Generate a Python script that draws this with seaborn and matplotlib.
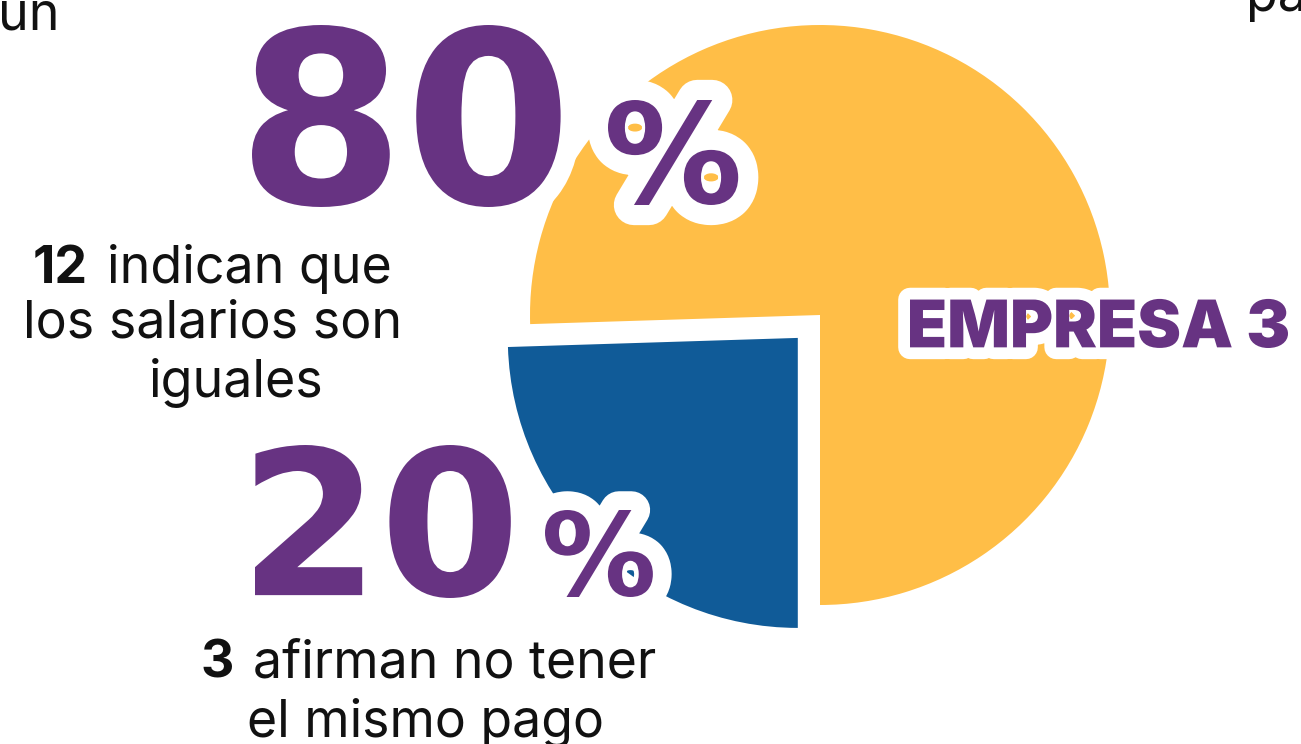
import matplotlib
matplotlib.use("Agg")
import matplotlib.pyplot as plt
import matplotlib.patheffects as pe
from matplotlib.font_manager import FontProperties
from matplotlib.textpath import TextPath
import seaborn as sns

company = "EMPRESA 3"
counts = [12, 3]
percents = [80, 20]
captions = [["indican que", "los salarios son", "iguales"],
            ["afirman no tener", "el mismo pago"]]
drawn_share = [75.5, 24.5]   # slice sizes as they are drawn (quarter-ish wedge)
colors = ["#FFBE47", "#105B98"]
purple = "#673382"

W, H, DPI = 1301, 744, 100
radius = 290

sns.set_theme(style="white")
palette = sns.color_palette(colors)

fig = plt.figure(figsize=(W / DPI, H / DPI), dpi=DPI)
ax = fig.add_axes([0, 0, 1, 1])

# explode is in data units here (pixels), so scale by the radius
ax.pie(drawn_share, colors=palette, startangle=270, counterclock=True,
       explode=[0, 0.11 * radius], center=(820, H - 315), radius=radius,
       wedgeprops=dict(linewidth=0))
ax.set_xlim(0, W)
ax.set_ylim(0, H)
ax.set_aspect("equal")
ax.axis("off")

big = FontProperties(family="DejaVu Sans", weight="bold")
label_fp = FontProperties(family="Inter", weight="black")
body = FontProperties(family="Inter")
body_b = FontProperties(family="Inter", weight="bold")


def place(s, fp, left=None, right=None, bottom=None, baseline=None,
          height=None, width=None, size=None, color="#111111", lw=None, z=3):
    # size the text so its ink box lands where it is in the picture (screen px)
    e = TextPath((0, 0), s, size=100, prop=fp).get_extents()
    if height is not None:
        px = 100 * height / e.height
    elif width is not None:
        px = 100 * width / e.width
    else:
        px = size * DPI / 72
    k = px / 100
    x = left - e.x0 * k if left is not None else right - e.x1 * k
    if baseline is None:
        baseline = bottom + e.y0 * k
    f = fp.copy()
    f.set_size(px * 72 / DPI)
    eff = None
    if lw:
        eff = [pe.withStroke(linewidth=lw, foreground="white",
                             joinstyle="round", capstyle="round")]
    ax.text(x, H - baseline, s, fontproperties=f, color=color,
            ha="left", va="baseline", path_effects=eff, zorder=z)
    return px * 72 / DPI


# big percentages
place(str(percents[0]), big, left=252, bottom=207, height=182, color=purple, lw=29)
place("%", big, left=608, bottom=205, height=105, color=purple, lw=29)
place(str(percents[1]), big, left=255, bottom=598, height=153, color=purple, lw=27)
place("%", big, left=545, bottom=597, height=87, color=purple, lw=27)

# company label
place(company, label_fp, left=910, bottom=348, width=378, color=purple, lw=17)

# captions, block 1
fs1 = place(captions[0][1], body, left=27, baseline=338, width=371)
place(str(counts[0]), body_b, left=35, baseline=283, size=fs1)
place(captions[0][0], body, left=110, baseline=283, size=fs1)
place(captions[0][2], body, left=152, baseline=397, size=fs1)

# captions, block 2
fs2 = place(captions[1][0], body, left=255, baseline=677, width=400)
place(str(counts[1]), body_b, left=203, baseline=677, size=fs2)
place(captions[1][1], body, left=250, baseline=737, size=fs2)

# fragments of neighbouring panels cut by the frame
place("un", body, right=55, baseline=30, size=fs1)
place("pa", body, left=1250, baseline=11, size=fs1)

fig.savefig("out.png", dpi=DPI)
